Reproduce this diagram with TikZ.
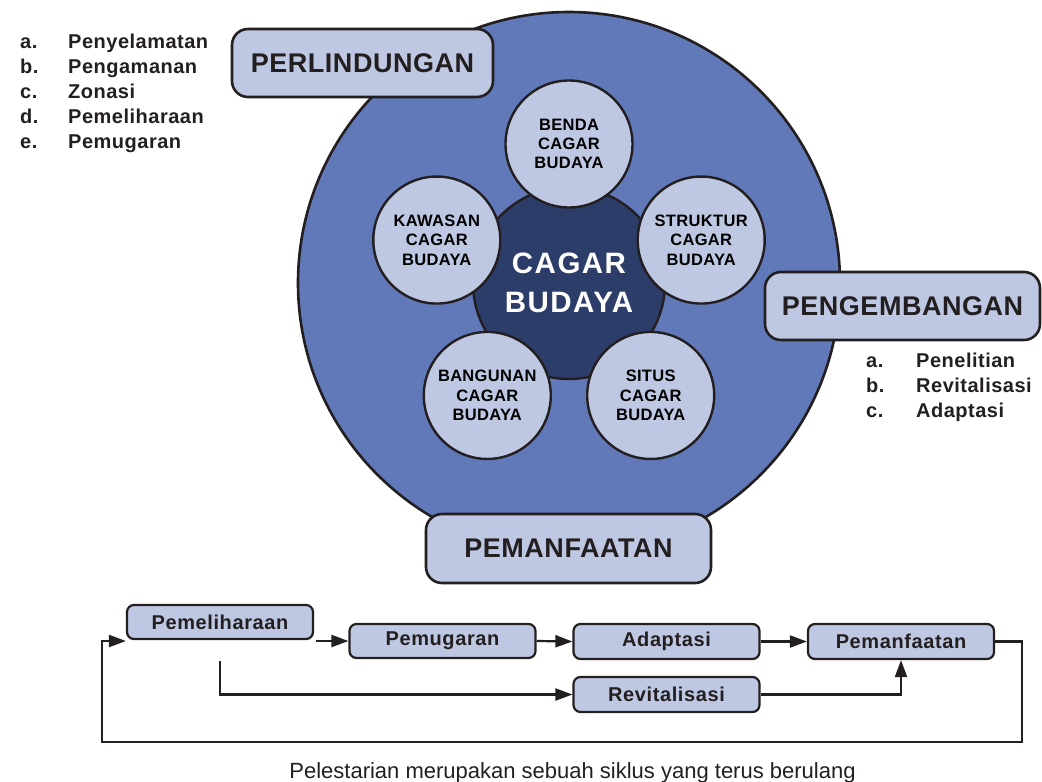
\documentclass[tikz,border=0pt]{standalone}
\usepackage{fontspec}
\setmainfont{Liberation Sans}
\usetikzlibrary{arrows.meta,positioning,calc}
\definecolor{midblue}{RGB}{97,121,184}
\definecolor{darkblue}{RGB}{45,61,106}
\definecolor{lightblue}{RGB}{191,200,226}
\definecolor{ink}{RGB}{35,31,32}
\newcommand\lsp[1]{\addfontfeature{LetterSpace=#1}}
\tikzset{
  bigbox/.style={draw=ink, line width=2.6pt, fill=lightblue, rounded corners=16pt,
    text=ink, font=\fontsize{27}{30}\selectfont\bfseries\lsp{2}},
  smallcirc/.style={circle, draw=ink, line width=2.4pt, fill=lightblue, minimum size=127pt,
    inner sep=0pt, align=center, text=black, font=\fontsize{16.5}{19.3}\selectfont\bfseries\lsp{2}},
  flowbox/.style={draw=ink, line width=2.2pt, fill=lightblue, rounded corners=7pt,
    minimum width=186pt, minimum height=34pt, inner sep=0pt, text=ink,
    font=\fontsize{20}{22}\selectfont\bfseries\lsp{3}},
  listtxt/.style={anchor=base west, inner sep=0pt, text=ink,
    font=\fontsize{20}{22}\selectfont\bfseries\lsp{2.5}},
  flowline/.style={draw=ink, line width=2.2pt, -{Triangle[length=17pt,width=12pt]}},
  plainline/.style={draw=ink, line width=2.2pt}
}
\begin{document}
\begin{tikzpicture}[x=1pt,y=-1pt]
\useasboundingbox (0,0) rectangle (1042,782);
% big circle
\node[circle, draw=ink, line width=2.6pt, fill=midblue, minimum size=542pt, inner sep=0pt] (bigc) at (569,283) {};
\node[circle, draw=ink, line width=2.4pt, fill=darkblue, minimum size=192pt, inner sep=0pt,
      align=center, text=white, font=\fontsize{29.5}{39}\selectfont\bfseries\lsp{5}] (core) at (569,283) {CAGAR\\BUDAYA};
% five circles (y axis points down, so angles are negated)
\node[smallcirc] (benda) at ($(core)+(-90:139)$) {BENDA\\CAGAR\\BUDAYA};
\node[smallcirc] (struktur) at ($(core)+(-18:139)$) {STRUKTUR\\CAGAR\\BUDAYA};
\node[smallcirc] (situs) at ($(core)+(54:139)$) {SITUS\\CAGAR\\BUDAYA};
\node[smallcirc] (bangunan) at ($(core)+(126:139)$) {BANGUNAN\\CAGAR\\BUDAYA};
\node[smallcirc] (kawasan) at ($(core)+(-162:139)$) {KAWASAN\\CAGAR\\BUDAYA};
% label boxes
\node[bigbox, minimum width=261pt, minimum height=68pt] (perl) at (362.5,63) {PERLINDUNGAN};
\node[bigbox, minimum width=275pt, minimum height=68pt] (peng) at (902.5,306) {PENGEMBANGAN};
\node[bigbox, minimum width=285pt, minimum height=69pt] (peman) at (568.5,548.5) {PEMANFAATAN};
% left list
\node[listtxt] (la) at (20,48) {a.};  \node[listtxt] (lat) at (68,48) {Penyelamatan};
\node[listtxt] (lb) at (20,73) {b.};  \node[listtxt] (lbt) at (68,73) {Pengamanan};
\node[listtxt] (lc) at (20,98) {c.};  \node[listtxt] (lct) at (68,98) {Zonasi};
\node[listtxt] (ld) at (20,123) {d.}; \node[listtxt] (ldt) at (68,123) {Pemeliharaan};
\node[listtxt] (le) at (20,148) {e.}; \node[listtxt] (let) at (68,148) {Pemugaran};
% right list
\node[listtxt] (ra) at (866,367) {a.}; \node[listtxt] (rat) at (916,367) {Penelitian};
\node[listtxt] (rb) at (866,392) {b.}; \node[listtxt] (rbt) at (916,392) {Revitalisasi};
\node[listtxt] (rc) at (866,417) {c.}; \node[listtxt] (rct) at (916,417) {Adaptasi};
% flowchart
\node[flowbox] (fpem) at (220,622) {Pemeliharaan};
\node[flowbox] (fpug) at (442.5,641) {Pemugaran};
\node[flowbox, minimum height=35pt] (fada) at (666.5,641.5) {Adaptasi};
\node[flowbox, minimum height=35pt] (fman) at (901,641.5) {Pemanfaatan};
\node[flowbox, minimum height=35pt] (frev) at (666.5,694.5) {Revitalisasi};
\draw[flowline] ([xshift=2pt]fpem.east |- fpug.west) -- (fpug.west);
\draw[flowline] (fpug.east) -- (fada.west);
\draw[flowline] (fada.east) -- (fman.west);
\coordinate (drop) at ([yshift=-21pt]fpem.south);
\draw[flowline] (drop) |- (frev.west);
\draw[flowline] (frev.east) -| (fman.south);
\coordinate (fbR) at (1022,742);
\coordinate (fbL) at (102,742);
\draw[flowline] (fman.east) -| (fbR) -- (fbL) |- ([yshift=-19pt]fpem.west);
% caption
\node[anchor=base, inner sep=0pt, text=ink, font=\fontsize{22}{26}\selectfont] (cap) at (572.5,778) {Pelestarian merupakan sebuah siklus yang terus berulang};
\end{tikzpicture}
\end{document}
